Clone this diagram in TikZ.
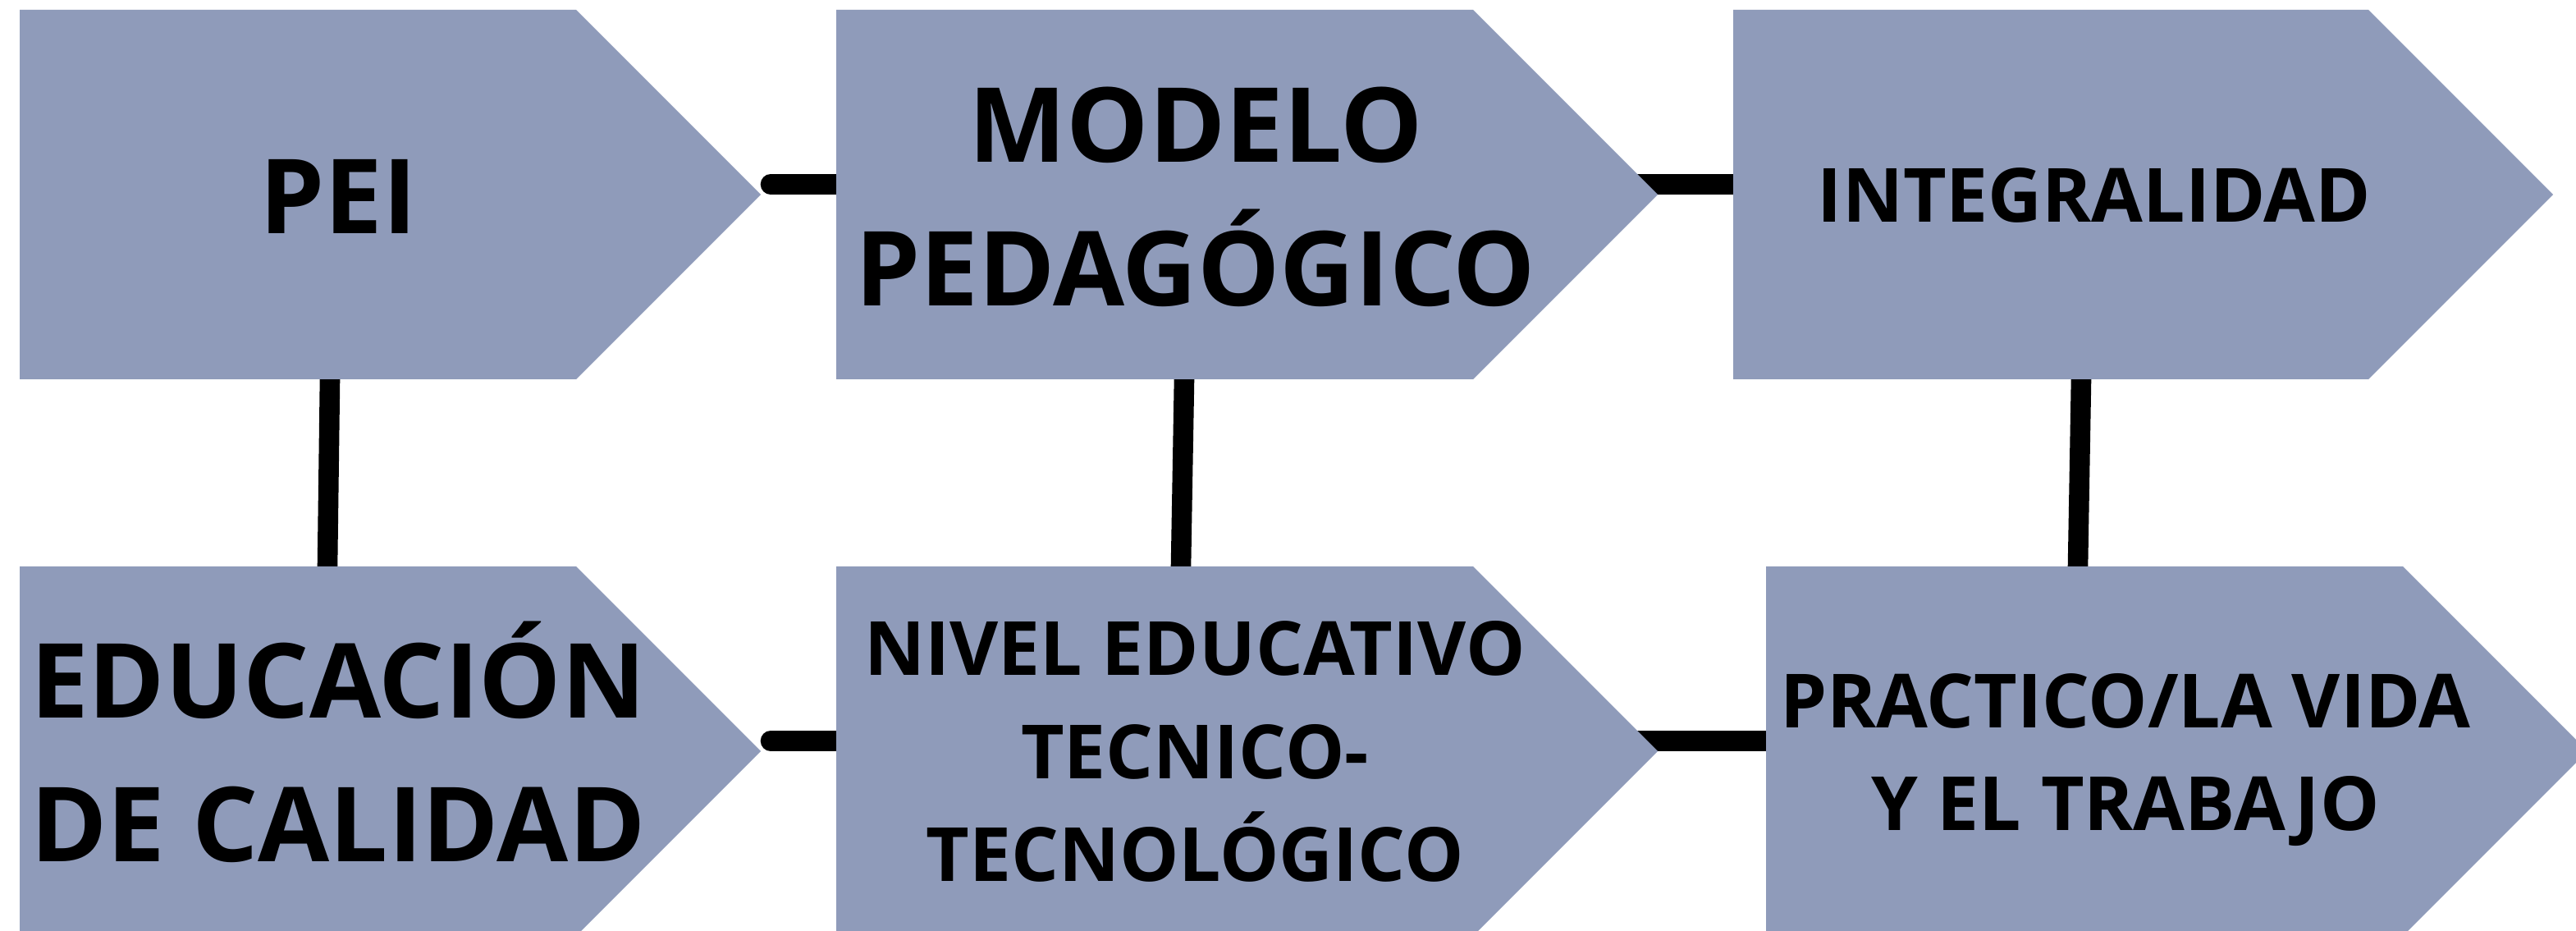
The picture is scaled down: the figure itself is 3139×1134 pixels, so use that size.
\documentclass[tikz,border=0pt]{standalone}
\usepackage{fontspec}
\setmainfont{Open Sans}
\usetikzlibrary{backgrounds}
\definecolor{boxgray}{RGB}{143,155,186}
\tikzset{
    chevron/.style={fill=boxgray},
    biglabel/.style={font=\bfseries\fontsize{35.9}{49.6}\selectfont, align=center, inner sep=0pt},
    smalllabel/.style={font=\bfseries\fontsize{25.9}{35.7}\selectfont, align=center, inner sep=0pt},
    link/.style={line width=7pt, line cap=round},
}
\begin{document}
\begin{tikzpicture}[x=0.01cm,y=-0.01cm]
\useasboundingbox (0,0) rectangle (3139,1134);
% boxes: name / left / top / corner / x of the vertical link
\foreach \n/\l/\t/\c/\v in {pei/24/12/702/402, mod/1019/12/1795/1443, int/2112/12/2886/2536,
                            edu/24/690/702/399, niv/1019/690/1795/1439, pra/2152/690/2928/2532} {
    \fill[chevron] (\l,\t) -- (\c,\t) -- (\c+225,\t+225) -- (\c,\t+450) -- (\l,\t+450) -- cycle;
    \coordinate (\n-in) at (\l+20,\t+212.5);
    \coordinate (\n-out) at (\c+237,\t+212.5);
    \coordinate (\n-mid) at (\c,\t+212.5);
    \coordinate (\n-top) at (\v,\t);
    \coordinate (\n-bot) at (\v,\t+450);
}
\node[biglabel] (pei) at (412,239) {PEI};
\node[biglabel] (mod) at (1457,240) {MODELO\\PEDAGÓGICO};
\node[smalllabel] (int) at (2552,237.5) {INTEGRALIDAD};
\node[biglabel] (edu) at (412,904) {EDUCACIÓN\\DE CALIDAD};
\node[smalllabel] (niv) at (1456,915.5) {NIVEL EDUCATIVO\\TECNICO-\\TECNOLÓGICO};
\node[smalllabel] (pra) at (2590,925.5) {PRACTICO/LA VIDA\\Y EL TRABAJO};
\begin{scope}[on background layer]
    \draw[link] (pei-out) -- (mod-in);
    \draw[link] (mod-mid) -- (int-in);
    \draw[link] (edu-out) -- (niv-in);
    \draw[link] (niv-mid) -- (pra-in);
    \draw[link] (pei-bot) -- (edu-top);
    \draw[link] (mod-bot) -- (niv-top);
    \draw[link] (int-bot) -- (pra-top);
\end{scope}
\end{tikzpicture}
\end{document}
